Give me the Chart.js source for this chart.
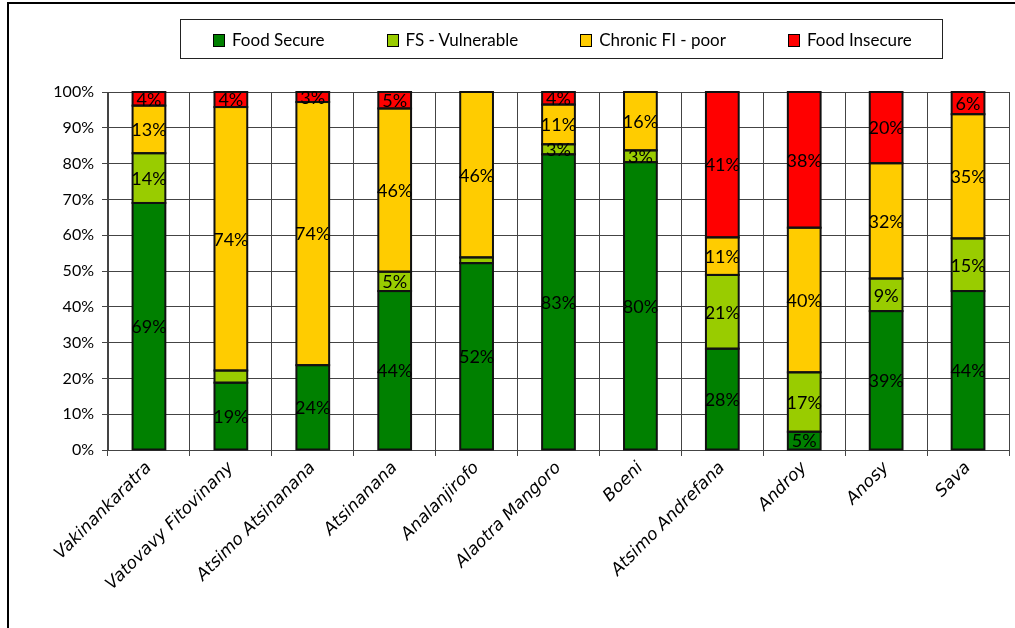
<!DOCTYPE html>
<html>
<head>
<meta charset="utf-8">
<script src="https://cdn.jsdelivr.net/npm/chart.js@4"></script>
<style>
  body { margin: 0; background: #fff; font-family: Lato, "DejaVu Sans", sans-serif; }
  #wrap { position: relative; width: 1015px; height: 628px; }
  #grafico { position: absolute; left: 0; top: 0; }
  #marco { position: absolute; left: 7px; top: 2px; width: 1010px; height: 630px;
           border-left: 2px solid #000; border-top: 2px solid #000; box-sizing: border-box; }
  #leyenda { position: absolute; left: 180px; top: 19px; width: 763px; height: 40px;
             border: 1px solid #222; box-sizing: border-box; display: flex; align-items: center;
             padding-left: 32px; gap: 62px; font-size: 17px; color: #000; }
  #leyenda span.caja { display: inline-block; width: 10px; height: 11px; border: 1px solid #000;
                       margin-right: 7px; vertical-align: -1px; }
</style>
</head>
<body>
<div id="wrap">
  <canvas id="grafico" width="1015" height="628"></canvas>
  <div id="marco"></div>
  <div id="leyenda"></div>
</div>
<script>
const regiones = ['Vakinankaratra', 'Vatovavy Fitovinany', 'Atsimo Atsinanana', 'Atsinanana',
  'Analanjirofo', 'Alaotra Mangoro', 'Boeni', 'Atsimo Andrefana', 'Androy', 'Anosy', 'Sava'];

const foodSecure     = [69.0, 18.8, 23.7, 44.4, 52.2, 82.6, 80.4, 28.3, 5.1, 38.8, 44.4];
const fsVulnerable   = [13.9, 3.4, 0, 5.4, 1.6, 2.8, 3.3, 20.6, 16.6, 9.1, 14.7];
const chronicFiPoor  = [13.3, 73.6, 73.5, 45.6, 46.2, 11.1, 16.3, 10.5, 40.4, 32.2, 34.7];
const foodInsecure   = [3.8, 4.2, 2.8, 4.6, 0, 3.5, 0, 40.6, 37.9, 19.9, 6.2];

const nombresSeries = ['Food Secure', 'FS - Vulnerable', 'Chronic FI - poor', 'Food Insecure'];
const colores = ['#008000', '#99CC00', '#FFCC00', '#FF0000'];
const ticksY = [0, 10, 20, 30, 40, 50, 60, 70, 80, 90, 100];

// segmentos sin etiqueta: [serie, región]
const sinEtiqueta = [[1, 1], [1, 4]];

const fuente = 'Lato, "DejaVu Sans", sans-serif';

const series = [foodSecure, fsVulnerable, chronicFiPoor, foodInsecure];

// leyenda en HTML con su marco
const leyenda = document.getElementById('leyenda');
nombresSeries.forEach((nombre, i) => {
  const item = document.createElement('div');
  item.innerHTML = `<span class="caja" style="background:${colores[i]}"></span>${nombre}`;
  leyenda.appendChild(item);
});

// contorno de cada segmento y porcentaje en el centro
const etiquetasPlugin = {
  id: 'etiquetas',
  afterDatasetsDraw(chart) {
    const ctx = chart.ctx;
    const tope = chart.chartArea.top;
    ctx.save();
    ctx.strokeStyle = '#111';
    ctx.lineWidth = 2;
    chart.data.datasets.forEach((ds, i) => {
      chart.getDatasetMeta(i).data.forEach((bar, j) => {
        if (!ds.data[j]) return;
        const arriba = Math.max(bar.y, tope);
        ctx.strokeRect(bar.x - bar.width / 2, arriba, bar.width, bar.base - arriba);
      });
    });

    ctx.font = '18px ' + fuente;
    ctx.fillStyle = '#000';
    ctx.textAlign = 'center';
    ctx.textBaseline = 'middle';
    chart.data.datasets.forEach((ds, i) => {
      chart.getDatasetMeta(i).data.forEach((bar, j) => {
        const valor = ds.data[j];
        if (!valor || valor < 1) return;
        if (sinEtiqueta.some(([s, r]) => s === i && r === j)) return;
        const arriba = Math.max(bar.y, tope);
        ctx.fillText(Math.round(valor) + '%', bar.x, (arriba + bar.base) / 2 + 1);
      });
    });
    ctx.restore();
  }
};

const ctx = document.getElementById('grafico').getContext('2d');

new Chart(ctx, {
  type: 'bar',
  data: {
    labels: regiones,
    datasets: series.map((datos, i) => ({
      label: nombresSeries[i],
      data: datos,
      backgroundColor: colores[i],
      borderWidth: 0,
      barPercentage: 0.4,
      categoryPercentage: 1.0
    }))
  },
  options: {
    responsive: false,
    animation: false,
    layout: { padding: { top: 92, right: 6, left: 0, bottom: 0 } },
    plugins: {
      legend: { display: false },
      tooltip: { enabled: false }
    },
    scales: {
      x: {
        stacked: true,
        afterFit: (scale) => { scale.height = 178; },
        grid: { color: '#444', lineWidth: 1, tickLength: 6, offset: true },
        border: { color: '#444' },
        ticks: {
          color: '#000',
          font: { family: '"DejaVu Sans", sans-serif', size: 17, style: 'italic' },
          maxRotation: 45,
          minRotation: 45,
          padding: 2,
          autoSkip: false
        }
      },
      y: {
        stacked: true,
        min: 0,
        max: 100,
        afterFit: (scale) => { scale.width = 108; },
        afterBuildTicks: (scale) => { scale.ticks = ticksY.map(v => ({ value: v })); },
        grid: { color: '#444', lineWidth: 1, tickLength: 6 },
        border: { color: '#444' },
        ticks: {
          color: '#000',
          font: { family: fuente, size: 16 },
          padding: 8,
          callback: (v) => v + '%'
        }
      }
    }
  },
  plugins: [etiquetasPlugin]
});
</script>
</body>
</html>
